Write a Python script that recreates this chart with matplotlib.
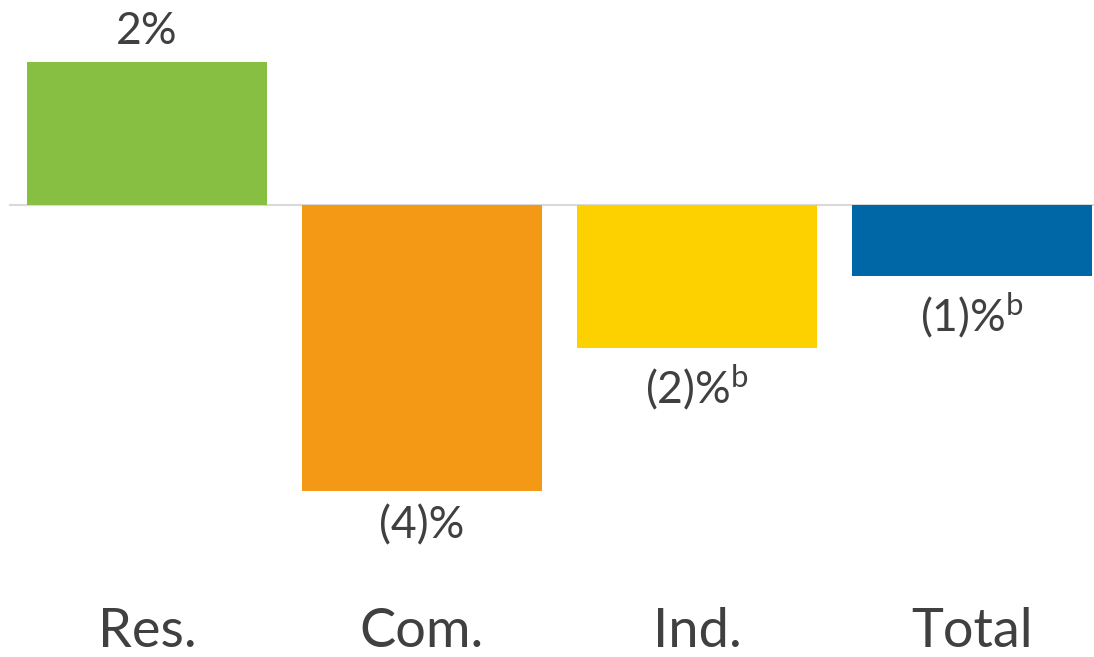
import matplotlib.pyplot as plt

categories = ["Res.", "Com.", "Ind.", "Total"]
values = [2, -4, -2, -1]
value_labels = ["2%", "(4)%", "(2)%", "(1)%"]
footnotes = ["", "", "b", "b"]
colors = ["#86bf41", "#f39915", "#fdd100", "#0067a6"]

plt.rcParams['font.family'] = ['Lato', 'DejaVu Sans']
text_color = "#404040"

fig = plt.figure(figsize=(10.94, 6.57), dpi=100)
ax = fig.add_axes([0, 0, 1, 1])

x = list(range(len(categories)))
ax.bar(x, values, width=0.873, color=colors, zorder=2)
ax.axhline(0, xmin=10 / 1094, xmax=1, color="#d9d9d9", lw=1.5, zorder=1)

ax.set_xlim(-147 / 275, (1094 - 147) / 275)
ax.set_ylim(-(657 - 205) / 71.5, 205 / 71.5)
ax.axis("off")

for xi, v, lab, fn in zip(x, values, value_labels, footnotes):
    txt = lab + (r"$^{\mathregular{" + fn + "}}$" if fn else "")
    if v >= 0:
        ax.annotate(txt, (xi, v), xytext=(0, 7), textcoords="offset points",
                    ha="center", va="bottom", fontsize=32, color=text_color)
    else:
        ax.annotate(txt, (xi, v), xytext=(0, -10), textcoords="offset points",
                    ha="center", va="top", fontsize=32, color=text_color)

for xi, cat in zip(x, categories):
    ax.text(xi, -5.97, cat, ha="center", va="center", fontsize=39, color=text_color)

fig.savefig("out.png", dpi=100)
